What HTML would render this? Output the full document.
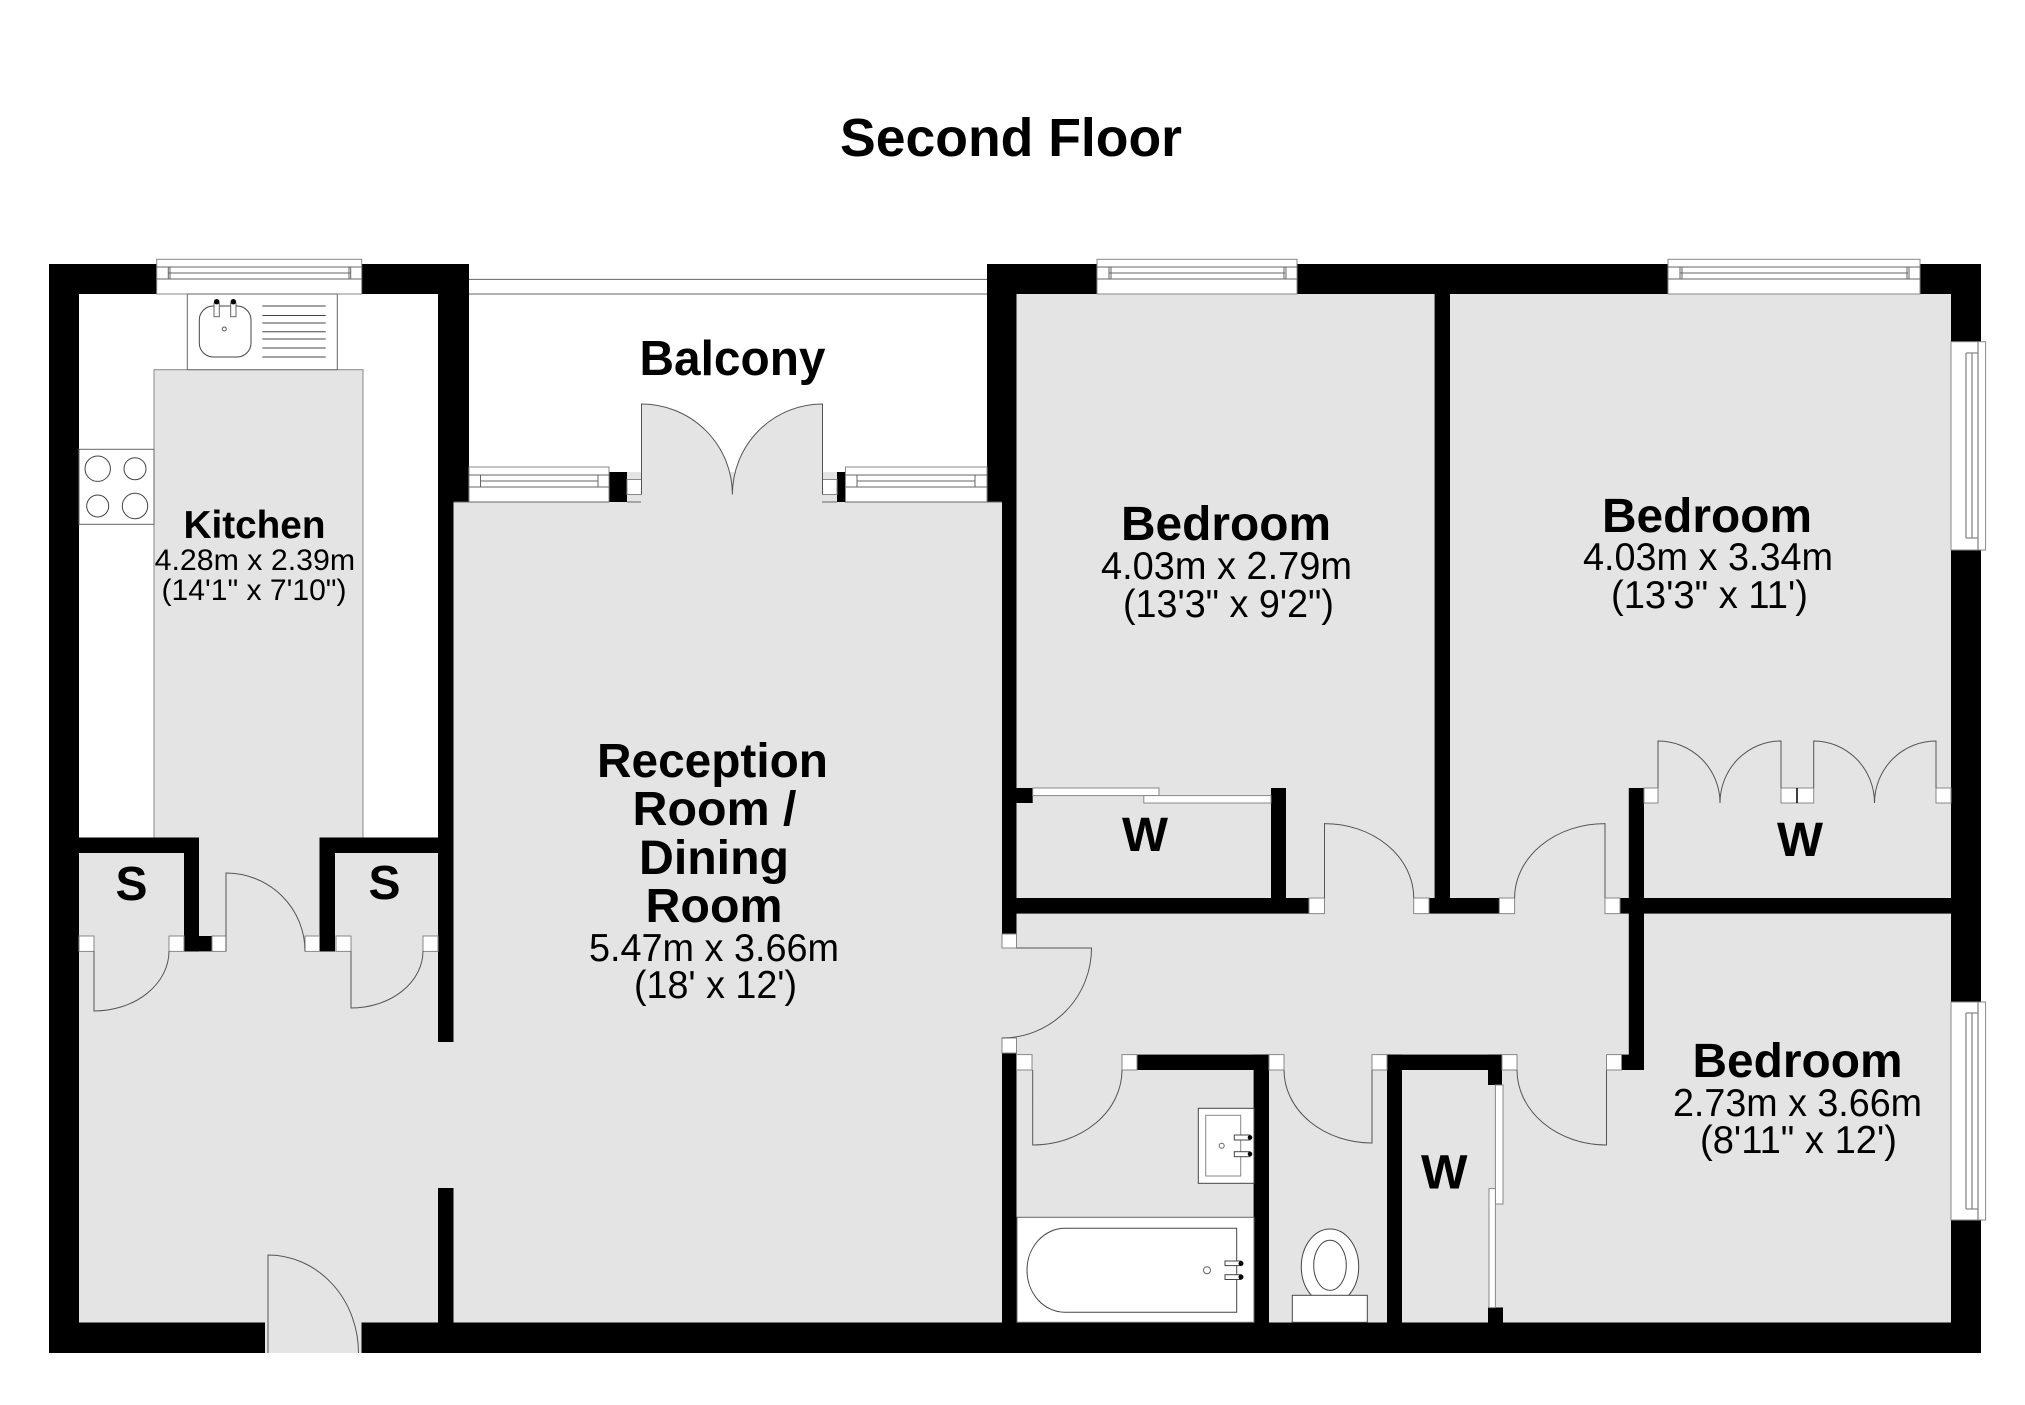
<!DOCTYPE html>
<html><head><meta charset="utf-8"><title>Second Floor</title>
<style>
html,body{margin:0;padding:0;background:#fff}
svg{display:block}
text{font-family:"Liberation Sans",Arial,sans-serif;fill:#000}
.b{font-weight:bold}
.l{fill:none;stroke:#666;stroke-width:1}
.d{fill:none;stroke:#555;stroke-width:1}
.w{fill:#fff;stroke:#888;stroke-width:1}
.f{fill:#fff;stroke:#444;stroke-width:1}
.g{fill:#e4e4e4}
.gs{fill:#e4e4e4;stroke:#888;stroke-width:1}
</style></head><body>
<svg width="2025" height="1405" viewBox="0 0 2025 1405" xmlns="http://www.w3.org/2000/svg">
<rect width="2025" height="1405" fill="#fff"/>

<!-- floors -->
<rect class="gs" x="154" y="369.7" width="209" height="480"/>
<rect class="g" x="79" y="853" width="923" height="470"/>
<rect class="g" x="199" y="837" width="121" height="17"/>
<rect class="g" x="453" y="502" width="549" height="821"/>
<rect class="g" x="1002" y="948" width="15" height="90"/>
<rect class="g" x="1016.5" y="294" width="935" height="1029"/>

<!-- walls -->
<g fill="#000">
<rect x="49" y="264" width="30" height="1089"/>
<rect x="49" y="264" width="420" height="30"/>
<rect x="49" y="1322.5" width="216" height="30.5"/>
<rect x="361.5" y="1322.5" width="1619.5" height="30.5"/>
<rect x="1951" y="264" width="30" height="1089"/>
<rect x="987" y="264" width="994" height="30"/>
<rect x="438" y="264" width="31" height="238"/>
<rect x="438" y="502" width="15.5" height="540"/>
<rect x="438" y="1188" width="15.5" height="135"/>
<rect x="987" y="264" width="29.5" height="238"/>
<rect x="1002" y="502" width="14.5" height="432"/>
<rect x="1002" y="1053" width="14.5" height="270"/>
<rect x="609" y="472" width="18" height="30"/>
<rect x="837" y="472" width="8.5" height="30"/>
<!-- S closets -->
<rect x="79" y="837.5" width="120" height="15.5"/>
<rect x="184" y="837.5" width="15" height="114"/>
<rect x="184" y="936" width="28" height="15.4"/>
<rect x="319.5" y="837.5" width="118.5" height="15.5"/>
<rect x="319.5" y="837.5" width="15.5" height="114"/>
<!-- bedrooms -->
<rect x="1434.6" y="294" width="15.4" height="604"/>
<rect x="1016" y="898" width="293" height="15.6"/>
<rect x="1429" y="898" width="70.3" height="15.6"/>
<rect x="1620" y="898" width="331" height="15.6"/>
<rect x="1628.8" y="788" width="15.2" height="282"/>
<rect x="1621.6" y="1054.6" width="22.4" height="15.4"/>
<rect x="1016" y="788" width="16.7" height="15"/>
<rect x="1271" y="788" width="15" height="110"/>
<rect x="1137" y="1054.6" width="132" height="15.4"/>
<rect x="1253.6" y="1054.6" width="15.4" height="268"/>
<rect x="1387" y="1054.6" width="115" height="15.4"/>
<rect x="1387" y="1054.6" width="15" height="268"/>
<rect x="1488" y="1054.6" width="14" height="30.4"/>
<rect x="1488" y="1307.5" width="15" height="15"/>
</g>
<rect class="g" x="265" y="1322" width="96.5" height="31"/>

<!-- top windows -->
<g>
<rect class="w" x="156.7" y="259.3" width="205" height="34.7"/>
<rect class="w" x="1097" y="259.3" width="200" height="34.7"/>
<rect class="w" x="1668" y="259.3" width="252" height="34.7"/>
<path class="l" d="M156.7 267H361.7M168.3 273H350.7M156.7 279H361.7M168.3 267V279M170 267V279M349 267V279M350.7 267V279"/>
<path class="l" d="M1097 267H1297M1109 273H1285M1097 279H1297M1109 267V279M1111 267V279M1284 267V279M1286 267V279"/>
<path class="l" d="M1668 267H1920M1680 273H1908M1668 279H1920M1680 267V279M1682 267V279M1907 267V279M1909 267V279"/>
<path class="l" d="M469 279.4H987M469 294H987"/>
</g>

<!-- balcony windows -->
<rect class="w" x="469" y="467" width="140" height="35"/>
<rect class="w" x="845.5" y="467" width="141.5" height="35"/>
<path class="l" d="M469 475H609M480.5 481H598M469 487H609M480.5 475V487M598 475V487"/>
<path class="l" d="M845.5 475H987M857 481H975M845.5 487H987M857 475V487M975 475V487"/>
<rect class="g" x="627" y="472" width="210" height="30"/>
<rect class="w" x="627" y="479.5" width="14.5" height="15"/>
<rect class="w" x="822.5" y="479.5" width="14.5" height="15"/>
<path class="gs" d="M641.5 502V404A91 90.5 0 0 1 732.4 494.5A90 90.5 0 0 1 822.5 404V502Z" style="stroke:none"/>
<path class="d" d="M641.5 494.5V404A91 90.5 0 0 1 732.4 494.5A90 90.5 0 0 1 822.5 404V494.5"/>
<path class="l" d="M453.5 502H609M627 502H641M822 502H837M845 502H1002"/>

<!-- right windows -->
<rect class="w" x="1951" y="341.7" width="34.6" height="208.3"/>
<rect class="w" x="1951" y="1002" width="34.6" height="218"/>
<path class="l" d="M1966 353V538M1972 353V538M1978 341.7V550M1966 353H1978M1966 538H1978" style="stroke:#888;stroke-width:1.3"/>
<path class="l" d="M1966 1013V1209M1972 1013V1209M1978 1002V1220M1966 1013H1978M1966 1209H1978" style="stroke:#888;stroke-width:1.3"/>

<!-- kitchen fixtures -->
<rect class="f" x="187.3" y="294" width="150" height="75.7" style="stroke:#666"/>
<rect class="f" x="199.3" y="306" width="51.7" height="51" rx="14" ry="14"/>
<rect class="f" x="214" y="303" width="5.3" height="13.7" style="stroke:#666"/>
<rect class="f" x="230.7" y="303" width="5.3" height="13.7" style="stroke:#666"/>
<circle cx="216.7" cy="301.7" r="2.7"/><circle cx="233.3" cy="301.7" r="2.7"/>
<circle cx="224.3" cy="329" r="2" fill="none" stroke="#555"/>
<path d="M262.3 306H325.7M262.3 315.5H325.7M262.3 323H325.7M262.3 331.7H325.7M262.3 339H325.7M262.3 348H325.7M262.3 357H325.7" stroke="#444" fill="none"/>
<rect class="f" x="79" y="449.3" width="75" height="75" style="stroke:#666"/>
<circle class="f" cx="97.7" cy="468.7" r="12.7"/>
<circle class="f" cx="135" cy="468.7" r="11"/>
<circle class="f" cx="97.7" cy="506" r="11"/>
<circle class="f" cx="135" cy="506" r="12.7"/>

<!-- S door squares -->
<g class="w">
<rect class="w" x="79" y="936" width="15" height="15.4"/>
<rect class="w" x="169" y="936" width="15" height="15.4"/>
<rect class="w" x="212" y="936" width="14" height="15.4"/>
<rect class="w" x="305" y="936" width="14.5" height="15.4"/>
<rect class="w" x="336" y="936" width="15" height="15.4"/>
<rect class="w" x="423" y="936" width="15" height="15.4"/>
</g>
<path class="d" d="M94 951V1011A75 60 0 0 0 169 951"/>
<path class="d" d="M226 951V873A79 78 0 0 1 305 951"/>
<path class="d" d="M351 951V1008A72 57 0 0 0 423 951"/>
<path class="d" d="M268 1353V1255A90.5 98 0 0 1 358.5 1353"/>

<!-- reception door -->
<rect class="w" x="1002" y="934" width="14.5" height="14"/>
<rect class="w" x="1002" y="1038" width="14.5" height="15"/>
<path class="d" d="M1016.5 948H1091.5A89.5 90 0 0 1 1002 1038"/>

<!-- bedroom door squares -->
<rect class="w" x="1309" y="898" width="15.5" height="15.6"/>
<rect class="w" x="1413.7" y="898" width="15.3" height="15.6"/>
<rect class="w" x="1499.3" y="898" width="15.3" height="15.6"/>
<rect class="w" x="1605" y="898" width="15" height="15.6"/>
<path class="d" d="M1324.5 898V823.6A89.2 74.4 0 0 1 1413.7 898"/>
<path class="d" d="M1605 898V823.6A90.4 74.4 0 0 0 1514.6 898"/>

<!-- wardrobes -->
<rect class="w" x="1032.7" y="788" width="126.3" height="7.6"/>
<rect class="w" x="1143.8" y="795.6" width="127.2" height="7.4"/>
<rect class="w" x="1644" y="788" width="14" height="15"/>
<rect class="w" x="1781" y="788" width="16" height="15"/>
<rect class="w" x="1797" y="788" width="16.7" height="15"/>
<rect class="w" x="1936" y="788" width="15" height="15"/>
<path d="M1797 788V803" stroke="#000" stroke-width="1.5"/>
<path class="d" d="M1658 788V741A62 62 0 0 1 1720 803A61 62 0 0 1 1781 741V788"/>
<path class="d" d="M1813.7 788V741A60.8 62 0 0 1 1874.5 803A61.5 62 0 0 1 1936 741V788"/>

<!-- lower corridor squares -->
<rect class="w" x="1016.5" y="1054.6" width="15.5" height="15.4"/>
<rect class="w" x="1122" y="1054.6" width="15" height="15.4"/>
<rect class="w" x="1269" y="1054.6" width="15" height="15.4"/>
<rect class="w" x="1372" y="1054.6" width="15" height="15.4"/>
<rect class="w" x="1502" y="1054.6" width="15" height="15.4"/>
<rect class="w" x="1606.5" y="1054.6" width="15" height="15.4"/>
<path class="d" d="M1032.7 1070V1145A89.3 75 0 0 0 1122 1070"/>
<path class="d" d="M1372 1070V1143A88 73 0 0 1 1284 1070"/>
<path class="d" d="M1606.5 1070V1145A89.5 75 0 0 1 1517 1070"/>
<rect class="w" x="1495.4" y="1085" width="7.6" height="119"/>
<rect class="w" x="1489" y="1188.6" width="6.4" height="119"/>

<!-- bathroom fixtures -->
<rect class="w" x="1017" y="1217.3" width="237" height="105" style="stroke:#666"/>
<path class="f" d="M1236.7 1228.3H1065A38 42 0 0 0 1065 1312.3H1236.7Z"/>
<rect class="f" x="1225" y="1261" width="16" height="4.6"/>
<rect class="f" x="1225" y="1274.7" width="16" height="4.8"/>
<circle cx="1241" cy="1263.5" r="2.5"/><circle cx="1241" cy="1277" r="2.5"/>
<circle class="l" cx="1207" cy="1270.3" r="3.5"/>
<rect class="f" x="1198.3" y="1108.3" width="55.7" height="75"/>
<rect class="w" x="1205.7" y="1115.3" width="35" height="60.7"/>
<rect class="f" x="1234.3" y="1135" width="15.7" height="5"/>
<rect class="f" x="1234.3" y="1151.7" width="15.7" height="5"/>
<circle cx="1250" cy="1137.5" r="2.3"/><circle cx="1250" cy="1154" r="2.3"/>
<circle class="l" cx="1221.7" cy="1145.7" r="2.5"/>
<ellipse class="f" cx="1330" cy="1266.7" rx="28.7" ry="37.7"/>
<ellipse class="f" cx="1330" cy="1265.3" rx="16.3" ry="25"/>
<rect class="f" x="1292.3" y="1295.3" width="75" height="27"/>

<!-- text -->
<text class="b" x="840" y="156" font-size="54" textLength="342" lengthAdjust="spacingAndGlyphs">Second Floor</text>
<text class="b" x="639.5" y="375" font-size="49" textLength="186" lengthAdjust="spacingAndGlyphs">Balcony</text>

<text class="b" x="183.5" y="538" font-size="39" textLength="142" lengthAdjust="spacingAndGlyphs">Kitchen</text>
<text x="154.6" y="570" font-size="30" textLength="200.5" lengthAdjust="spacingAndGlyphs">4.28m x 2.39m</text>
<text x="161.5" y="600" font-size="30" textLength="185" lengthAdjust="spacingAndGlyphs">(14'1&quot; x 7'10&quot;)</text>

<text class="b" x="597" y="777" font-size="48" textLength="231" lengthAdjust="spacingAndGlyphs">Reception</text>
<text class="b" x="632.5" y="825" font-size="48" textLength="164" lengthAdjust="spacingAndGlyphs">Room /</text>
<text class="b" x="639" y="874" font-size="48" textLength="150" lengthAdjust="spacingAndGlyphs">Dining</text>
<text class="b" x="645.5" y="922" font-size="48" textLength="137" lengthAdjust="spacingAndGlyphs">Room</text>
<text x="589" y="961" font-size="38.5" textLength="250" lengthAdjust="spacingAndGlyphs">5.47m x 3.66m</text>
<text x="634" y="998" font-size="38.5" textLength="163" lengthAdjust="spacingAndGlyphs">(18' x 12')</text>

<text class="b" x="1121" y="540" font-size="48.5" textLength="210" lengthAdjust="spacingAndGlyphs">Bedroom</text>
<text x="1101" y="579" font-size="38.5" textLength="251" lengthAdjust="spacingAndGlyphs">4.03m x 2.79m</text>
<text x="1123" y="617" font-size="38.5" textLength="211" lengthAdjust="spacingAndGlyphs">(13'3&quot; x 9'2&quot;)</text>

<text class="b" x="1602" y="532" font-size="48.5" textLength="210" lengthAdjust="spacingAndGlyphs">Bedroom</text>
<text x="1583" y="570" font-size="38.5" textLength="250" lengthAdjust="spacingAndGlyphs">4.03m x 3.34m</text>
<text x="1611" y="608" font-size="38.5" textLength="197" lengthAdjust="spacingAndGlyphs">(13'3&quot; x 11')</text>

<text class="b" x="1692.5" y="1077" font-size="48.5" textLength="210" lengthAdjust="spacingAndGlyphs">Bedroom</text>
<text x="1673" y="1116" font-size="38.5" textLength="249" lengthAdjust="spacingAndGlyphs">2.73m x 3.66m</text>
<text x="1700" y="1153" font-size="38.5" textLength="197" lengthAdjust="spacingAndGlyphs">(8'11&quot; x 12')</text>

<text class="b" x="115.5" y="900" font-size="48" textLength="32" lengthAdjust="spacingAndGlyphs">S</text>
<text class="b" x="368.5" y="899" font-size="48" textLength="32" lengthAdjust="spacingAndGlyphs">S</text>
<text class="b" x="1122" y="851" font-size="48" textLength="46" lengthAdjust="spacingAndGlyphs">W</text>
<text class="b" x="1777" y="856" font-size="48" textLength="46" lengthAdjust="spacingAndGlyphs">W</text>
<text class="b" x="1421" y="1188.6" font-size="48" textLength="46.5" lengthAdjust="spacingAndGlyphs">W</text>
</svg>
</body></html>
